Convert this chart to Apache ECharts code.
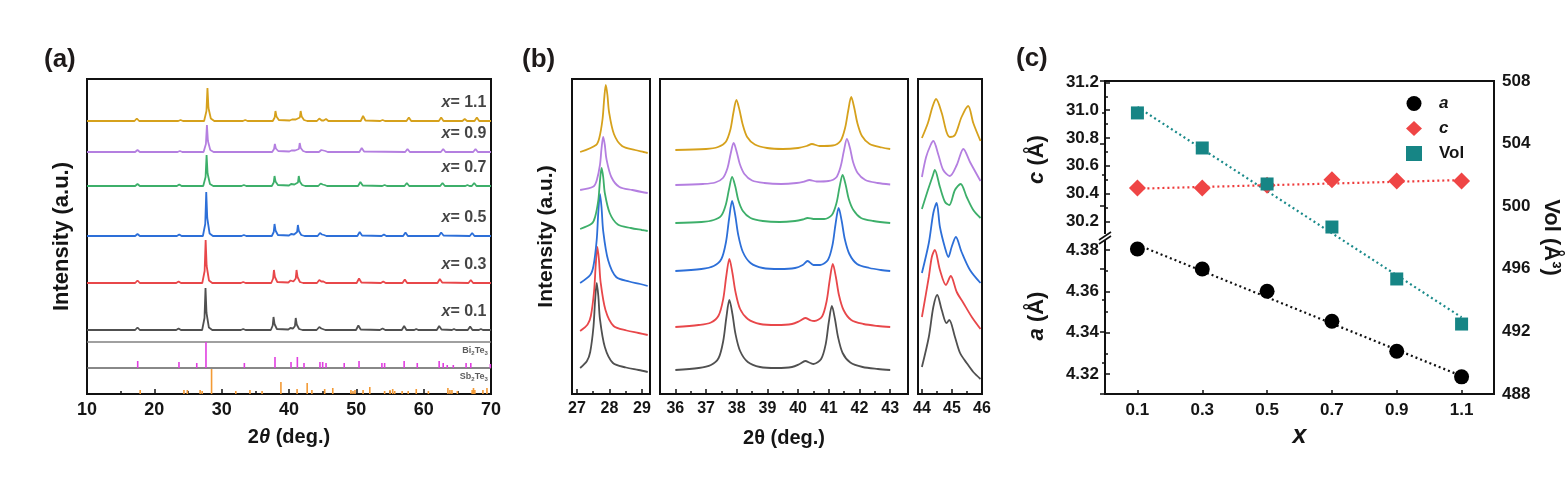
<!DOCTYPE html>
<html><head><meta charset="utf-8">
<script src="https://cdn.jsdelivr.net/npm/echarts@6/dist/echarts.min.js"></script>
<style>html,body{margin:0;padding:0;background:#fff}#c{width:1565px;height:478px}</style>
</head><body><div id="c"></div>
<script>
// ---------------- DATA ----------------
const sampleX = [0.1, 0.3, 0.5, 0.7, 0.9, 1.1];
const refPhases = ['Bi2Te3', 'Sb2Te3'];
// panel (a): waterfall offsets (a.u.) and patterns [2theta, intensity above own baseline]
const offsetA = [64, 111, 158, 208, 242, 273];
const patA01 = [10,0, 17.15,0, 17.5,2.5, 17.85,0, 23.25,0, 23.6,1.5, 23.95,0, 27.1,0, 27.45,12, 27.6,42, 27.75,17, 28.1,2.5, 28.6,0, 32.85,0, 33.2,1, 33.55,0, 37.3,0, 37.58,4.5, 37.7,13, 37.85,6, 38.2,1, 39.9,0.5, 40.2,2, 40.6,1.5, 40.88,4, 41.0,12, 41.15,5.5, 41.5,1, 42,0, 44.1,0, 44.5,3, 44.8,1.5, 45.0,1.5, 45.4,0, 49.95,0, 50.3,4.5, 50.65,0.5, 53.5,0, 53.9,1.5, 54.3,0, 56.75,0, 57.1,4, 57.45,0, 58.6,0, 58.9,1, 59.2,0, 61.95,0, 62.3,4, 62.65,0.5, 64.2,0, 64.5,1, 64.8,0, 66.55,0, 66.9,3.5, 67.25,0, 68.2,0, 68.5,1, 68.8,0, 70,0];
const patA03 = [10,0, 17.15,0, 17.5,2.5, 17.85,0, 23.25,0, 23.6,1.5, 23.95,0, 27.12,0, 27.47,12, 27.62,43, 27.77,17, 28.12,2.5, 28.6,0, 32.85,0, 33.2,1, 33.55,0, 37.36,0, 37.64,4.5, 37.76,13, 37.91,6, 38.26,1, 39.9,0.5, 40.23,2.5, 40.65,1.5, 41.0,4.5, 41.12,13, 41.27,6, 41.62,1, 42.1,0, 44.15,0, 44.5,3, 44.8,1.5, 45.1,1.5, 45.5,0, 50.05,0, 50.4,4.5, 50.75,0.5, 53.65,0, 54.0,1.5, 54.35,0, 56.85,0, 57.2,3.5, 57.55,0, 62.05,0, 62.4,4, 62.75,0.5, 66.65,0, 67.0,3, 67.35,0, 70,0];
const patA05 = [10,0, 17.15,0, 17.5,2, 17.85,0, 23.35,0, 23.7,1.5, 24.05,0, 27.21,0, 27.56,12, 27.71,44, 27.86,18, 28.21,2.5, 28.7,0, 32.95,0, 33.3,1, 33.65,0, 37.45,0, 37.73,4, 37.85,12, 38.0,5.5, 38.35,1, 40.0,0.5, 40.31,2, 40.75,1.5, 41.2,4, 41.32,11, 41.47,5, 41.82,1, 42.3,0, 44.25,0, 44.6,3, 44.9,1.5, 45.2,1, 45.55,0, 50.15,0, 50.5,4, 50.85,0.5, 53.75,0, 54.1,1.5, 54.45,0, 56.95,0, 57.3,3.5, 57.65,0, 62.25,0, 62.6,3.5, 62.95,0.5, 66.85,0, 67.2,3, 67.55,0, 70,0];
const patA07 = [10,0, 17.15,0, 17.5,2, 17.85,0, 23.35,0, 23.7,1.5, 24.05,0, 27.26,0, 27.61,9, 27.76,31, 27.91,12.5, 28.26,2, 28.75,0, 32.95,0, 33.3,1, 33.65,0, 37.45,0, 37.73,3.5, 37.85,10, 38.0,4.5, 38.35,1, 40.0,0.5, 40.31,2, 40.8,1.5, 41.33,3.5, 41.45,10, 41.6,4.5, 41.95,1, 42.4,0, 44.35,0, 44.7,2.5, 45.0,1.5, 45.3,1, 45.65,0, 50.25,0, 50.6,4, 50.95,0.5, 53.85,0, 54.2,1, 54.55,0, 57.15,0, 57.5,3, 57.85,0, 62.45,0, 62.8,3, 63.15,0, 66.2,0, 66.5,1, 66.8,0, 67.15,0, 67.5,3, 67.85,0, 70,0];
const patA09 = [10,0, 17.15,0, 17.5,2, 17.85,0, 23.45,0, 23.8,1, 24.15,0, 27.31,0, 27.66,8, 27.81,27, 27.96,11, 28.31,2, 28.8,0, 37.5,0, 37.78,3, 37.9,8, 38.05,3.5, 38.4,1, 40.05,0.5, 40.37,1.5, 40.9,1.5, 41.47,3, 41.59,9, 41.74,4, 42.09,1, 42.5,0, 44.45,0, 44.8,2, 45.1,1.5, 45.4,1, 45.75,0, 50.45,0, 50.8,4, 51.15,0.5, 57.25,0, 57.6,3, 57.95,0, 62.55,0, 62.9,3, 63.25,0, 67.35,0, 67.7,3, 68.05,0, 70,0];
const patA11 = [10,0, 17.05,0, 17.4,2.5, 17.75,0, 23.55,0, 23.9,1, 24.25,0, 27.39,0, 27.74,10, 27.89,33, 28.04,13, 28.39,2.5, 28.9,0, 33.15,0, 33.5,1, 33.85,0, 37.59,0, 37.87,3.5, 37.99,10, 38.14,4.5, 38.49,1, 40.1,0.5, 40.45,1.5, 41.0,1.5, 41.61,3.5, 41.73,10, 41.88,4.5, 42.23,1, 42.7,0, 44.15,0, 44.5,2.5, 44.85,0.5, 45.15,0.5, 45.5,2, 45.85,0, 50.65,0, 51.0,5, 51.35,0.5, 53.55,0, 53.9,1, 54.25,0, 57.45,0, 57.8,3.5, 58.15,0, 62.25,0, 62.6,3.5, 62.95,0, 65.75,0, 66.1,2, 66.45,0, 67.55,0, 67.9,3.5, 68.25,0, 70,0];
const patternA = [patA01, patA03, patA05, patA07, patA09, patA11];
// reference sticks [2theta, relative intensity]
const stickBi = [[17.53,7],[23.66,6],[26.3,5],[27.67,26],[33.37,5],[37.92,11],[40.3,6],[41.24,11],[42.23,5],[44.6,6],[45.0,6],[45.5,5],[48.2,5],[50.4,7],[53.8,5],[54.2,5],[57.1,7],[59.05,5],[62.3,7],[62.9,5],[63.5,3],[64.4,3],[66.3,5],[67.0,5],[69.9,4]];
const stickSb = [[17.9,4],[24.4,4],[24.9,4],[26.8,4],[27.1,3],[28.5,25],[32.1,3],[34.2,4],[36.0,3],[38.8,12],[41.2,5],[42.7,11],[43.4,4],[45.3,5],[46.5,6],[49.2,4],[49.5,3],[49.8,4],[51.0,4],[52.0,7],[54.2,3],[55.0,4],[55.4,5],[55.7,3],[56.8,3],[57.7,3],[58.9,5],[60.7,3],[63.6,6],[63.9,4],[64.2,4],[65.0,3],[67.2,4],[67.4,6],[67.6,4],[68.8,4],[69.4,6]];
// panel (b): three zoomed windows
const offB1 = [22, 59, 108, 163, 201, 241];
const profB1 = [
 [27.1,4, 27.31,11, 27.41,20, 27.51,45, 27.56,71, 27.61,89, 27.66,76, 27.71,53, 27.86,25, 28.11,9, 28.51,4.5, 28.9,2, 29.18,0],
 [27.1,4, 27.33,10.5, 27.43,19, 27.53,44, 27.58,70, 27.63,88, 27.68,75, 27.73,53, 27.88,25, 28.13,9, 28.53,4.5, 28.9,2, 29.18,0],
 [27.1,3, 27.41,11, 27.51,20, 27.61,46, 27.66,74, 27.71,92, 27.76,78, 27.81,55, 27.96,26, 28.21,9, 28.61,4.5, 28.95,2, 29.18,0],
 [27.1,2, 27.46,7.5, 27.56,14, 27.66,31, 27.71,50, 27.76,63, 27.81,54, 27.86,38, 28.01,18, 28.26,6.5, 28.66,3, 29.0,1, 29.18,0],
 [27.1,3, 27.51,6.5, 27.61,12.5, 27.71,28, 27.76,45, 27.81,56, 27.86,48, 27.91,34, 28.06,16, 28.31,6, 28.71,3, 29.0,1, 29.18,0],
 [27.1,1, 27.59,8, 27.69,15, 27.79,34, 27.84,54, 27.89,68, 27.94,58, 27.99,41, 28.14,19, 28.39,7, 28.79,3, 29.05,1, 29.18,0]
];
const offB2 = [23, 66, 122, 170, 208, 243];
const profB2 = [
 [36.0,1, 36.76,3, 37.16,6, 37.41,13, 37.56,30, 37.66,53, 37.76,71, 37.86,57, 37.96,37, 38.11,20, 38.36,9, 38.76,4, 39.3,3, 39.8,4, 40.05,7, 40.23,10, 40.4,8, 40.5,7, 40.75,12, 40.9,27, 41.0,49, 41.1,65, 41.2,52, 41.3,34, 41.45,18, 41.7,8.5, 42.1,4, 42.6,2, 43.0,1],
 [36.0,1, 36.76,3, 37.16,5.5, 37.41,12.5, 37.56,29, 37.66,52, 37.76,69, 37.86,55, 37.96,36, 38.11,19, 38.36,9, 38.76,4, 39.3,3, 39.8,4, 40.05,7, 40.23,10, 40.42,7.5, 40.53,7, 40.78,11.5, 40.93,27, 41.03,48, 41.13,64, 41.23,51, 41.33,33, 41.48,18, 41.73,8, 42.13,4, 42.6,2, 43.0,1],
 [36.0,1, 36.85,3, 37.25,6, 37.5,13, 37.65,30, 37.75,53, 37.85,71, 37.95,57, 38.05,37, 38.2,20, 38.45,9, 38.85,4, 39.4,3, 39.9,4, 40.15,7, 40.31,11, 40.5,7, 40.72,7, 40.97,12, 41.12,27, 41.22,48, 41.32,64, 41.42,51, 41.52,33, 41.67,18, 41.92,8, 42.32,4, 42.7,2, 43.0,1],
 [36.0,1, 36.85,2, 37.25,4, 37.5,8.5, 37.65,20, 37.75,35, 37.85,47, 37.95,38, 38.05,24, 38.2,13, 38.45,6, 38.85,3, 39.4,2, 39.9,3, 40.15,4.5, 40.31,6, 40.5,5, 40.85,5, 41.1,9, 41.25,21, 41.35,37, 41.45,49, 41.55,39, 41.65,25, 41.8,14, 42.05,6, 42.45,3, 43.0,1],
 [36.0,1, 36.9,2, 37.3,3.5, 37.55,8, 37.7,18, 37.8,32, 37.9,43, 38.0,34, 38.1,22, 38.25,12, 38.5,5.5, 38.9,3, 39.45,2, 39.95,3, 40.2,4.5, 40.37,6, 40.6,4.5, 40.99,5, 41.24,8.5, 41.39,20, 41.49,35, 41.59,47, 41.69,38, 41.79,24, 41.94,13, 42.19,6, 42.59,3, 43.0,1.5],
 [36.0,1, 37.0,2, 37.39,4, 37.64,9, 37.79,21, 37.89,38, 37.99,51, 38.09,41, 38.19,27, 38.34,14, 38.59,6.5, 38.99,3, 39.5,2, 40.0,3, 40.28,5, 40.45,7, 40.7,5, 41.13,5.5, 41.38,10, 41.53,23, 41.63,40, 41.73,54, 41.83,43, 41.93,28, 42.08,15, 42.33,7, 42.73,3.5, 43.0,2]
];
const offB3 = [12, 62, 108, 172, 210, 248];
const profB3 = [
 [44.0,15, 44.23,45, 44.38,75, 44.51,87, 44.66,72, 44.82,59, 44.91,62, 45.1,45, 45.27,29, 45.49,19, 45.71,10, 45.95,3],
 [44.0,15, 44.23,55, 44.33,75, 44.43,82, 44.6,62, 44.8,47, 44.96,56, 45.16,40, 45.38,29, 45.66,15, 45.95,3],
 [44.0,13, 44.23,43, 44.38,73, 44.49,83, 44.6,59, 44.77,38, 44.88,29, 44.99,39, 45.13,49, 45.32,34, 45.6,16, 45.95,3],
 [44.0,13, 44.2,32, 44.37,47, 44.43,52, 44.6,35, 44.77,20, 44.91,17, 45.1,32, 45.29,38, 45.49,25, 45.71,12, 45.95,4],
 [44.0,7, 44.14,27, 44.29,39, 44.38,43, 44.55,29, 44.71,14, 44.93,8, 45.16,19, 45.38,35, 45.6,22, 45.95,3],
 [44.0,8, 44.2,23, 44.35,39, 44.47,47, 44.66,33, 44.82,14, 44.93,9, 45.1,11, 45.32,29, 45.54,40, 45.71,23, 45.95,5]
];
// panel (c): lattice parameters
const latticeA = [4.3805, 4.3708, 4.3600, 4.3455, 4.3310, 4.3186];
const latticeC = [30.44, 30.44, 30.46, 30.50, 30.49, 30.49];
const cellVol = [505.96, 503.72, 501.42, 498.67, 495.35, 492.47];
const fitA = [[0.1, 4.3825], [1.1, 4.3190]];
const fitC = [[0.1, 30.435], [1.1, 30.497]];
const fitV = [[0.1, 506.34], [1.1, 492.9]];
const ticksB1 = [27, 28, 29], minorB1 = [27.5, 28.5];
const ticksB2 = [36, 37, 38, 39, 40, 41, 42, 43], minorB2 = [36.5, 37.5, 38.5, 39.5, 40.5, 41.5, 42.5];
const ticksB3 = [44, 45, 46], minorB3 = [44.5, 45.5];
const ticksCc = [30.2, 30.4, 30.6, 30.8, 31.0, 31.2], minorCc = [30.1, 30.3, 30.5, 30.7, 30.9, 31.1];
const ticksCa = [4.32, 4.34, 4.36, 4.38], minorCa = [4.33, 4.35, 4.37];

// ---------------- STYLE / LAYOUT ----------------
const FONT = "'Liberation Sans', Arial, Helvetica, sans-serif";
const TXT = '#151515';
const curveColors = ['#505050', '#e8474a', '#2d6fd8', '#3daf6a', '#b47fe0', '#d6a11c'];
const tickLS = {color: '#111', width: 1.5};
function pairs(flat, off) { const out = []; for (let i = 0; i < flat.length; i += 2) out.push([flat[i], flat[i + 1] + off]); return out; }
function lbl(fs, extra) { return Object.assign({fontSize: fs, fontWeight: 'bold', color: TXT, fontFamily: FONT}, extra || {}); }
const hid = {axisLine: {show: false}, splitLine: {show: false}};

const chart = echarts.init(document.getElementById('c'));
const gridBox = {show: true, borderColor: '#111', borderWidth: 2, backgroundColor: 'transparent'};
const grids = [
  Object.assign({left: 87, top: 79, width: 404, height: 315}, gridBox),
  Object.assign({left: 572, top: 79, width: 78, height: 315}, gridBox),
  Object.assign({left: 660, top: 79, width: 248, height: 315}, gridBox),
  Object.assign({left: 918, top: 79, width: 64, height: 315}, gridBox),
  Object.assign({left: 1105, top: 81, width: 389, height: 313}, gridBox),
  {left: 1105, top: 81, width: 389, height: 157, show: false},
  {left: 1105, top: 238, width: 389, height: 156, show: false}
];
function bMajor(gi, min, max, vals, name) {
  const ax = Object.assign({gridIndex: gi, type: 'value', min: min, max: max,
    axisTick: {inside: true, length: 5, customValues: vals, lineStyle: tickLS},
    axisLabel: Object.assign(lbl(16), {customValues: vals, margin: 7, formatter: v => String(Math.round(v))})}, hid);
  if (name) Object.assign(ax, {name: name, nameLocation: 'middle', nameGap: 34, nameTextStyle: lbl(20)});
  return ax;
}
function bMinor(gi, min, max, vals) {
  return Object.assign({gridIndex: gi, type: 'value', min: min, max: max, position: 'bottom',
    axisTick: {inside: true, length: 3, customValues: vals, lineStyle: tickLS}, axisLabel: {show: false}}, hid);
}
const xAxes = [
  Object.assign({gridIndex: 0, type: 'value', min: 10, max: 70, interval: 10,
    axisTick: {inside: true, length: 5, lineStyle: tickLS}, minorTick: {show: true, splitNumber: 2, length: 3, lineStyle: tickLS},
    axisLabel: Object.assign(lbl(18), {margin: 7}),
    name: '2{i|θ} (deg.)', nameLocation: 'middle', nameGap: 33,
    nameTextStyle: lbl(20, {rich: {i: lbl(20, {fontStyle: 'italic'})}})}, hid),
  bMajor(1, 26.85, 29.25, ticksB1), bMinor(1, 26.85, 29.25, minorB1),
  bMajor(2, 35.5, 43.58, ticksB2, '2θ (deg.)'), bMinor(2, 35.5, 43.58, minorB2),
  bMajor(3, 43.87, 46.0, ticksB3), bMinor(3, 43.87, 46.0, minorB3),
  Object.assign({gridIndex: 4, type: 'value', min: 0, max: 1.2,
    axisTick: {inside: true, length: 4, customValues: sampleX, lineStyle: tickLS},
    axisLabel: Object.assign(lbl(17), {customValues: sampleX, margin: 8, formatter: v => v.toFixed(1)}),
    name: 'x', nameLocation: 'middle', nameGap: 29, nameTextStyle: lbl(25, {fontStyle: 'italic'})}, hid),
  {gridIndex: 5, type: 'value', min: 0, max: 1.2, show: false},
  {gridIndex: 6, type: 'value', min: 0, max: 1.2, show: false}
];
function yName(txt, gap) {
  return {name: txt, nameLocation: 'middle', nameGap: gap, nameRotate: 90};
}
const yAxes = [
  Object.assign({gridIndex: 0, type: 'value', min: 0, max: 315, axisTick: {show: false}, axisLabel: {show: false}},
    hid, yName('Intensity (a.u.)', 14), {nameTextStyle: lbl(22)}),
  Object.assign({gridIndex: 1, type: 'value', min: 0, max: 315, axisTick: {show: false}, axisLabel: {show: false}},
    hid, yName('Intensity (a.u.)', 15), {nameTextStyle: lbl(21)}),
  Object.assign({gridIndex: 2, type: 'value', min: 0, max: 315, show: false}),
  Object.assign({gridIndex: 3, type: 'value', min: 0, max: 315, show: false}),
  Object.assign({gridIndex: 4, type: 'value', position: 'right', min: 488, max: 508, interval: 4,
    axisTick: {inside: true, length: 5, lineStyle: tickLS}, minorTick: {show: true, splitNumber: 2, length: 3, lineStyle: tickLS},
    axisLabel: Object.assign(lbl(17), {margin: 8}),
    name: 'Vol (Å³)', nameLocation: 'middle', nameGap: 46, nameRotate: -90, nameTextStyle: lbl(22)}, hid),
  Object.assign({gridIndex: 5, type: 'value', position: 'left', min: 30.08, max: 31.21,
    axisTick: {inside: true, length: 5, customValues: ticksCc, lineStyle: tickLS},
    axisLabel: Object.assign(lbl(17), {customValues: ticksCc, margin: 6, formatter: v => v.toFixed(1)})},
    hid, yName('{i|c} (Å)', 57), {nameTextStyle: lbl(22, {rich: {i: lbl(22, {fontStyle: 'italic'})}})}),
  Object.assign({gridIndex: 5, type: 'value', position: 'left', min: 30.08, max: 31.21,
    axisTick: {inside: true, length: 3, customValues: minorCc, lineStyle: tickLS}, axisLabel: {show: false}}, hid),
  Object.assign({gridIndex: 6, type: 'value', position: 'left', min: 4.3103, max: 4.3858,
    axisTick: {inside: true, length: 5, customValues: ticksCa, lineStyle: tickLS},
    axisLabel: Object.assign(lbl(17), {customValues: ticksCa, margin: 6, formatter: v => v.toFixed(2)})},
    hid, yName('{i|a} (Å)', 57), {nameTextStyle: lbl(22, {rich: {i: lbl(22, {fontStyle: 'italic'})}})}),
  Object.assign({gridIndex: 6, type: 'value', position: 'left', min: 4.3103, max: 4.3858,
    axisTick: {inside: true, length: 3, customValues: minorCa, lineStyle: tickLS}, axisLabel: {show: false}}, hid)
];

const series = [];
// (a) patterns
patternA.forEach((flat, i) => series.push({type: 'line', xAxisIndex: 0, yAxisIndex: 0, data: pairs(flat, offsetA[i]),
  symbol: 'none', lineStyle: {color: curveColors[i], width: 1.8}, silent: true, z: 3}));
// separators and reference sticks
const refBase = [26, 0];
series.push({type: 'line', xAxisIndex: 0, yAxisIndex: 0, data: [[10, 52], [70, 52]], symbol: 'none', lineStyle: {color: '#808080', width: 1.6}, silent: true});
series.push({type: 'line', xAxisIndex: 0, yAxisIndex: 0, data: [[10, 26], [70, 26]], symbol: 'none', lineStyle: {color: '#606060', width: 1.6}, silent: true});
function stickSeries(data, base, color) {
  return {type: 'custom', xAxisIndex: 0, yAxisIndex: 0, data: data, silent: true, z: 4, encode: {x: 0, y: 1},
    renderItem: (params, api) => {
      const x = api.value(0), h = api.value(1);
      const p0 = api.coord([x, base]), p1 = api.coord([x, base + h]);
      return {type: 'line', shape: {x1: p0[0], y1: p0[1], x2: p1[0], y2: p1[1]}, style: {stroke: color, lineWidth: 1.6}};
    }};
}
series.push(stickSeries(stickBi, refBase[0], '#e03ee0'));
series.push(stickSeries(stickSb, refBase[1], '#f39a35'));
// (a) text labels anchored to the data
series.push({type: 'scatter', xAxisIndex: 0, yAxisIndex: 0, symbolSize: 1, itemStyle: {color: 'rgba(0,0,0,0)'}, silent: true, z: 6,
  data: offsetA.map(o => [69.4, o + 18]),
  label: {show: true, position: 'left', distance: 0, formatter: p => '{i|x}= ' + sampleX[p.dataIndex].toFixed(1),
    fontSize: 16, fontWeight: 'bold', color: TXT, fontFamily: FONT, rich: {i: {fontStyle: 'italic', fontWeight: 'bold', fontSize: 16, fontFamily: FONT, color: TXT}}}});
series.push({type: 'scatter', xAxisIndex: 0, yAxisIndex: 0, symbolSize: 1, itemStyle: {color: 'rgba(0,0,0,0)'}, silent: true, z: 6,
  data: refBase.map(b => [69.6, b + 17]),
  label: {show: true, position: 'left', distance: 0, formatter: p => refPhases[p.dataIndex].replace(/(\d)/g, '{s|$1}'),
    fontSize: 9, fontWeight: 'bold', color: '#333', fontFamily: FONT, rich: {s: {fontSize: 6, fontWeight: 'bold', color: '#333', fontFamily: FONT, padding: [5, 0, 0, 0]}}}});
// (b) windows
[[1, 1, profB1, offB1], [3, 2, profB2, offB2], [5, 3, profB3, offB3]].forEach(([xi, yi, prof, off]) => {
  prof.forEach((flat, i) => series.push({type: 'line', xAxisIndex: xi, yAxisIndex: yi, data: pairs(flat, off[i]),
    symbol: 'none', smooth: 0.3, lineStyle: {color: curveColors[i], width: 1.8}, silent: true, z: 3}));
});
// (c) lattice parameters
const dotted = (c) => ({color: c, width: 2.2, type: [2, 3]});
series.push({type: 'line', xAxisIndex: 9, yAxisIndex: 7, data: fitA, symbol: 'none', lineStyle: dotted('#111'), silent: true, z: 2});
series.push({type: 'line', xAxisIndex: 8, yAxisIndex: 5, data: fitC, symbol: 'none', lineStyle: dotted('#ee3b3b'), silent: true, z: 2});
series.push({type: 'line', xAxisIndex: 7, yAxisIndex: 4, data: fitV, symbol: 'none', lineStyle: dotted('#1a8a8a'), silent: true, z: 2});
series.push({name: 'a', type: 'scatter', xAxisIndex: 9, yAxisIndex: 7, data: sampleX.map((x, i) => [x, latticeA[i]]),
  symbol: 'circle', symbolSize: 15, itemStyle: {color: '#000', opacity: 1}, z: 5});
series.push({name: 'c', type: 'scatter', xAxisIndex: 8, yAxisIndex: 5, data: sampleX.map((x, i) => [x, latticeC[i]]),
  symbol: 'diamond', symbolSize: 17, itemStyle: {color: '#ef4545', opacity: 1}, z: 5});
series.push({name: 'Vol', type: 'scatter', xAxisIndex: 7, yAxisIndex: 4, data: sampleX.map((x, i) => [x, cellVol[i]]),
  symbol: 'rect', symbolSize: 13, itemStyle: {color: '#168585', opacity: 1}, z: 6});

const titleStyle = {fontSize: 26, fontWeight: 'bold', fill: '#1e1a1a', fontFamily: FONT, textAlign: 'center', textVerticalAlign: 'middle'};
const brkX = grids[6].left, brkY = grids[6].top;
const legRich = {
  i: {fontStyle: 'italic', fontWeight: 'bold', fontSize: 17, color: TXT, fontFamily: FONT, padding: [0, 0, 0, 12]},
  n: {fontWeight: 'bold', fontSize: 17, color: TXT, fontFamily: FONT, padding: [0, 0, 0, 12]}
};
chart.setOption({
  animation: false,
  backgroundColor: '#fff',
  grid: grids, xAxis: xAxes, yAxis: yAxes, series: series,
  legend: {data: [{name: 'a', icon: 'circle'}, {name: 'c', icon: 'diamond'}, {name: 'Vol', icon: 'rect'}],
    orient: 'vertical', left: 1406, top: 95, padding: 0, itemGap: 8, itemWidth: 16, itemHeight: 15,
    selectedMode: false,
    textStyle: {fontSize: 17, fontWeight: 'bold', color: TXT, fontFamily: FONT, rich: legRich},
    formatter: n => n === 'Vol' ? '{n|' + n + '}' : '{i|' + n + '}'},
  graphic: [
    {type: 'text', left: 44, top: 47, style: Object.assign({text: '(a)'}, titleStyle), z: 10},
    {type: 'text', left: 522, top: 47, style: Object.assign({text: '(b)'}, titleStyle), z: 10},
    {type: 'text', left: 1016, top: 46, style: Object.assign({text: '(c)'}, titleStyle), z: 10},
    {type: 'rect', shape: {x: brkX - 4, y: brkY - 4, width: 8, height: 6}, style: {fill: '#fff'}, z: 20},
    {type: 'line', shape: {x1: brkX - 6, y1: brkY + 2, x2: brkX + 6, y2: brkY - 6}, style: {stroke: '#111', lineWidth: 1.6}, z: 21},
    {type: 'line', shape: {x1: brkX - 6, y1: brkY + 6, x2: brkX + 6, y2: brkY - 2}, style: {stroke: '#111', lineWidth: 1.6}, z: 21}
  ]
});
</script></body></html>
